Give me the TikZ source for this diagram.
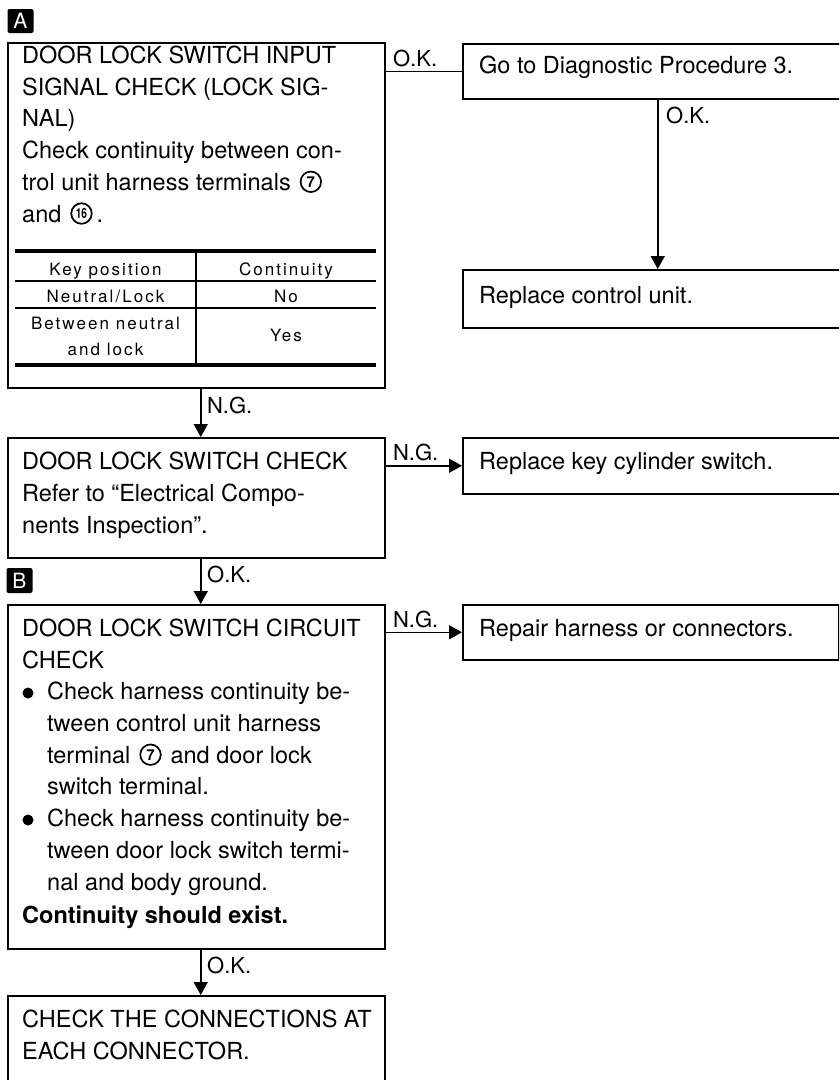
\documentclass[tikz,border=0pt]{standalone}
\usepackage{fontspec}
\setmainfont{TeX Gyre Heros}
\newfontfamily\tabfont[LetterSpace=12]{TeX Gyre Heros}
\usetikzlibrary{arrows.meta}
\newcommand\mainsize{\fontsize{23.5}{31.7}\selectfont}
\newsavebox\circseven
\newsavebox\circsixteen
\sbox\circseven{\tikz[baseline={([yshift=-8.5pt]n.center)}]\node[circle,draw,line width=1.7pt,inner sep=0pt,minimum size=20.5pt,font=\bfseries\fontsize{15}{15}\selectfont](n){7};}
\sbox\circsixteen{\tikz[baseline={([yshift=-8.5pt]n.center)}]\node[circle,draw,line width=1.7pt,inner sep=0pt,minimum size=20.5pt,font=\bfseries\fontsize{14}{14}\selectfont](n){\scalebox{0.72}[1]{16}};}
\begin{document}
\begin{tikzpicture}[x=1pt,y=-1pt,
  box/.style={draw, line width=1.5pt, rectangle, inner sep=0pt, anchor=north west},
  txt/.style={anchor=base west, inner sep=0pt, align=left, font=\mainsize},
  lbl/.style={anchor=base west, inner sep=0pt, font=\fontsize{22}{24}\selectfont},
  tab/.style={anchor=base, inner sep=0pt, align=center, font=\tabfont\fontsize{17}{26}\selectfont},
  badge/.style={fill=black, text=white, rounded corners=2pt, inner sep=0pt, font=\fontsize{21}{21}\selectfont},
  conn/.style={line width=1.5pt},
  arr/.style={line width=1.5pt, -{Triangle[length=13pt,width=14pt]}},
  thickrule/.style={line width=3.2pt},
  thinrule/.style={line width=1.3pt}]
\useasboundingbox (0,0) rectangle (839,1080);
\clip (0,0) rectangle (839,1080);

% badges
\node[badge, minimum width=26pt, minimum height=24pt] (tagA) at (20.5,21) {A};
\node[badge, minimum width=26pt, minimum height=25pt] (tagB) at (19.5,580.5) {B};

% left column boxes
\node[box, minimum width=377pt, minimum height=345pt] (b1) at (7,42) {};
\node[box, minimum width=377pt, minimum height=120pt] (b2) at (7,437) {};
\node[box, minimum width=377pt, minimum height=344pt] (b3) at (7,604) {};
\node[box, minimum width=377pt, minimum height=110pt] (b4) at (7,995) {};

% right column boxes
\node[box, minimum width=390pt, minimum height=55pt] (r1) at (462,43) {};
\node[box, minimum width=390pt, minimum height=58pt] (r2) at (462,269) {};
\node[box, minimum width=390pt, minimum height=56pt] (r3) at (462,437) {};
\node[box, minimum width=376pt, minimum height=55pt] (r4) at (462,604) {};

% texts (anchor = baseline of the last line)
\node[txt] (t1) at (22,222) {DOOR LOCK SWITCH INPUT\\SIGNAL CHECK (LOCK SIG-\\NAL)\\Check continuity between con-\\trol unit harness terminals\hspace{9pt}\usebox\circseven\\and\hspace{9pt}\usebox\circsixteen\,.};
\node[txt] (t2) at (22,533) {DOOR LOCK SWITCH CHECK\\Refer to ``Electrical Compo-\\nents Inspection''.};
\node[txt] (t3) at (22,668) {DOOR LOCK SWITCH CIRCUIT\\CHECK};
\node[txt] (t3b) at (47,890) {Check harness continuity be-\\tween control unit harness\\terminal\hspace{9pt}\usebox\circseven\hspace{9pt}and door lock\\switch terminal.\\Check harness continuity be-\\tween door lock switch termi-\\nal and body ground.};
\fill (28,693) circle (5.5);
\fill (28,820) circle (5.5);
\node[txt, font=\mainsize\bfseries] (t3c) at (22,923) {Continuity should exist.};
\node[txt] (t4) at (22,1059) {CHECK THE CONNECTIONS AT\\EACH CONNECTOR.};

\node[txt] (tr1) at (479,73) {Go to Diagnostic Procedure 3.};
\node[txt] (tr2) at (479,303) {Replace control unit.};
\node[txt] (tr3) at (479,469) {Replace key cylinder switch.};
\node[txt] (tr4) at (479,636) {Repair harness or connectors.};

% table
\draw[thickrule] (15,251) -- (376,251);
\draw[thinrule] (15,281) -- (376,281);
\draw[thinrule] (15,308) -- (376,308);
\draw[thickrule] (15,365) -- (376,365);
\draw[thinrule] (196,251) -- (196,365);
\node[tab] (h1) at (105.5,275) {Key position};
\node[tab] (h2) at (286,275) {Continuity};
\node[tab] (c11) at (105.5,302) {Neutral/Lock};
\node[tab] (c12) at (286,302) {No};
\node[tab] (c21) at (105.5,355) {Between neutral\\and lock};
\node[tab] (c22) at (286,341) {Yes};

% connectors
\draw[conn] (r1.west -| b1.east) -- (r1.west);
\draw[arr] (r1.south) -- (r2.north);
\draw[arr] ([xshift=4.5pt]b1.south) -- ([xshift=4.5pt]b2.north);
\draw[arr] (r3.west -| b2.east) -- (r3.west);
\draw[arr] ([xshift=4.5pt]b2.south) -- ([xshift=4.5pt]b3.north);
\draw[arr] (r4.west -| b3.east) -- (r4.west);
\draw[arr] ([xshift=4.5pt]b3.south) -- ([xshift=4.5pt]b4.north);

% labels
\node[lbl] (l1) at (393,66) {O.K.};
\node[lbl] (l2) at (666,123) {O.K.};
\node[lbl] (l3) at (207,413) {N.G.};
\node[lbl] (l4) at (393,460) {N.G.};
\node[lbl] (l5) at (207,582) {O.K.};
\node[lbl] (l6) at (393,627) {N.G.};
\node[lbl] (l7) at (207,973) {O.K.};
\end{tikzpicture}
\end{document}
